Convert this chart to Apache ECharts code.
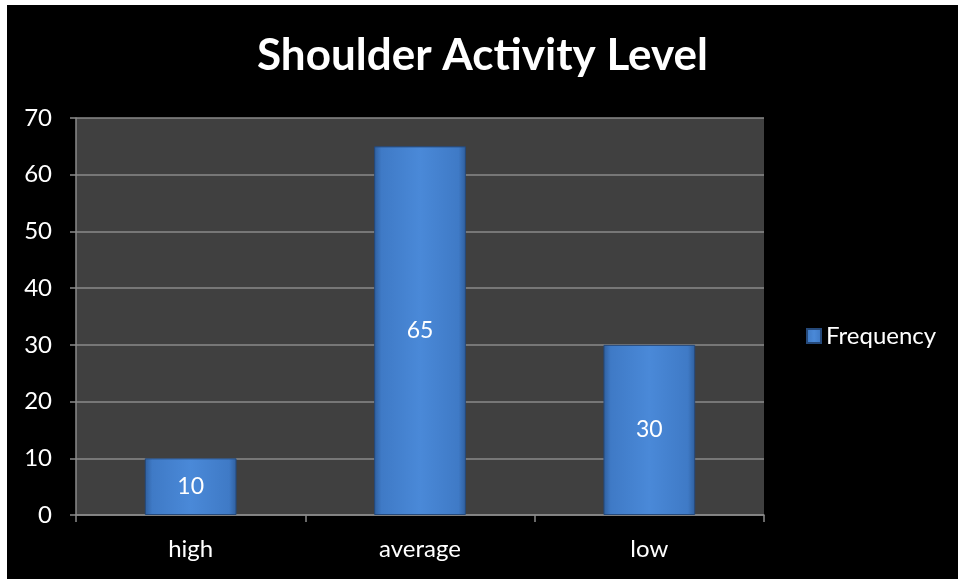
<!DOCTYPE html>
<html><head><meta charset="utf-8">
<script src="https://cdn.jsdelivr.net/npm/echarts@6/dist/echarts.min.js"></script>
<style>
html,body{margin:0;padding:0;background:#fff;width:958px;height:579px;overflow:hidden}
#c{position:absolute;left:7px;top:5px;width:951px;height:574px;background:#000}
</style></head>
<body><div id="c"></div>
<script>
const title = 'Shoulder Activity Level';
const categories = ['high', 'average', 'low'];
const seriesName = 'Frequency';
const values = [10, 65, 30];
const yTicks = [0, 10, 20, 30, 40, 50, 60, 70];

const chart = echarts.init(document.getElementById('c'), null, {renderer: 'canvas'});
const barGrad = new echarts.graphic.LinearGradient(0, 0, 1, 0, [
  {offset: 0, color: '#2f5f9e'},
  {offset: 0.08, color: '#3f7ac6'},
  {offset: 0.5, color: '#4a89d8'},
  {offset: 0.92, color: '#3f7ac6'},
  {offset: 1, color: '#2f5f9e'}
]);
chart.setOption({
  backgroundColor: '#000',
  animation: false,
  title: {
    text: title, left: 'center', top: 24,
    textStyle: {color: '#fff', fontFamily: 'Lato', fontWeight: 'bold', fontSize: 44}
  },
  legend: {
    data: [seriesName], orient: 'vertical', left: 794, top: 314,
    itemWidth: 14, itemHeight: 14, itemGap: 5,
    icon: 'rect',
    textStyle: {color: '#fff', fontFamily: 'Lato', fontSize: 24}
  },
  grid: {left: 69, top: 113, right: 194, bottom: 64, containLabel: false,
    show: true, backgroundColor: '#404040', borderWidth: 0},
  xAxis: {
    type: 'category', data: categories,
    axisLine: {lineStyle: {color: '#8a8a8a', width: 1.5}},
    axisTick: {show: true, length: 7, lineStyle: {color: '#8a8a8a', width: 1.5}, alignWithLabel: false},
    axisLabel: {color: '#fff', fontFamily: 'Lato', fontSize: 24, margin: 22}
  },
  yAxis: {
    type: 'value', min: 0, max: 70, interval: 10,
    axisLine: {show: true, lineStyle: {color: '#8a8a8a', width: 1.5}},
    axisTick: {show: true, length: 6, lineStyle: {color: '#8a8a8a', width: 1.5}},
    splitLine: {lineStyle: {color: '#8a8a8a', width: 1.5}},
    axisLabel: {color: '#fff', fontFamily: 'Lato', fontSize: 24, margin: 24,
      formatter: v => yTicks.includes(v) ? String(v) : ''}
  },
  series: [{
    name: seriesName, type: 'bar', data: values, barWidth: '40%',
    itemStyle: {color: barGrad, borderColor: '#25497a', borderWidth: 1},
    label: {show: true, position: 'inside', color: '#fff', fontFamily: 'Lato', fontSize: 23}
  }]
});
</script></body></html>
